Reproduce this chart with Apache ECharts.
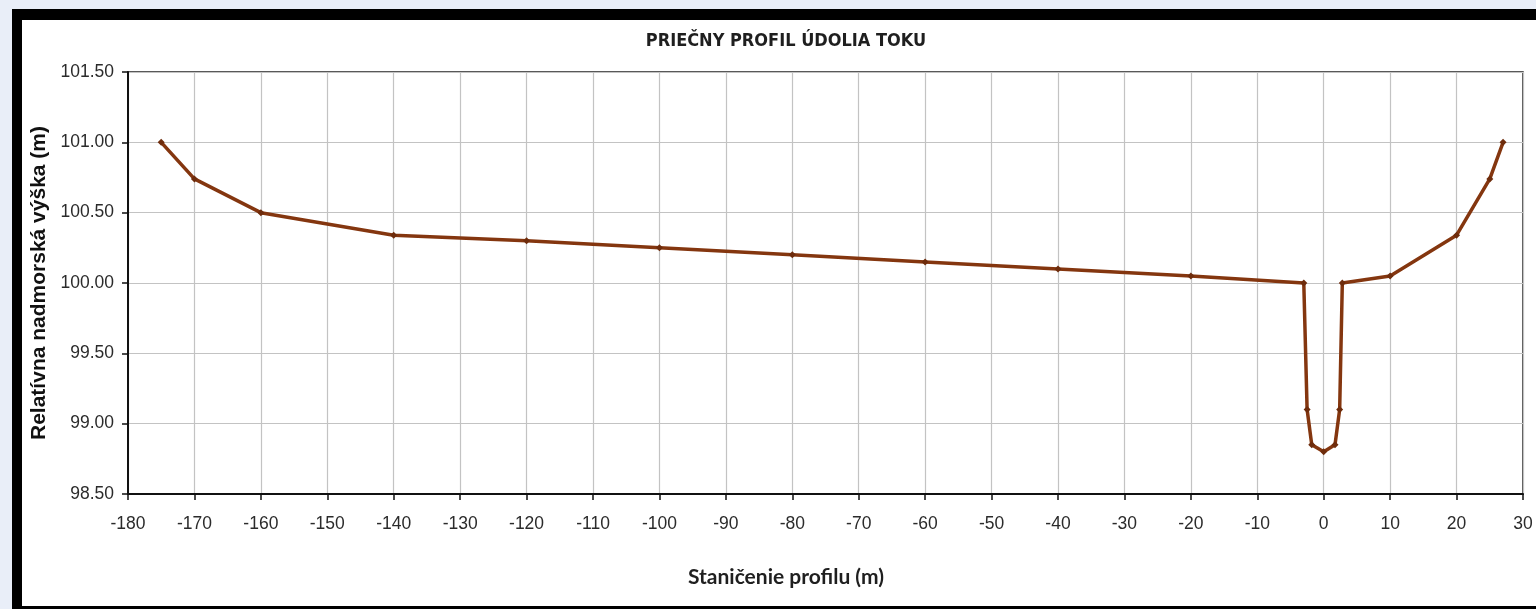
<!DOCTYPE html>
<html>
<head>
<meta charset="utf-8">
<title>Priečny profil údolia toku</title>
<script src="https://cdn.jsdelivr.net/npm/echarts@6/dist/echarts.min.js"></script>
<style>
  html, body { margin: 0; padding: 0; width: 1536px; height: 609px; overflow: hidden; background: #e9eef8; }
  #frame {
    position: absolute; left: 12px; top: 9px; width: 1560px; height: 600px;
    box-sizing: border-box; background: #ffffff;
    border-left: 10px solid #000; border-top: 11px solid #000; border-bottom: 3px solid #000;
  }
  #chart { position: absolute; left: 0; top: 0; width: 1536px; height: 609px; }
</style>
</head>
<body>
<div id="frame"></div>
<div id="chart"></div>
<script>
// Cross-section of the valley: station along the profile (m) and relative elevation (m)
const station = [-175, -170, -160, -140, -120, -100, -80, -60, -40, -20, -3, -2.5, -1.8, 0, 1.7, 2.4, 2.8, 10, 20, 25, 27];
const elevation = [101.0, 100.74, 100.5, 100.34, 100.3, 100.25, 100.2, 100.15, 100.1, 100.05, 100.0, 99.1, 98.85, 98.8, 98.85, 99.1, 100.0, 100.05, 100.34, 100.74, 101.0];

const titleText = 'PRIEČNY PROFIL ÚDOLIA TOKU';
const xAxisTitle = 'Staničenie profilu (m)';
const yAxisTitle = 'Relatívna nadmorská výška (m)';

const xRange = { min: -180, max: 30, step: 10 };
const yRange = { min: 98.5, max: 101.5, step: 0.5 };

const points = station.map((s, i) => [s, elevation[i]]);

const chart = echarts.init(document.getElementById('chart'), null, { renderer: 'canvas' });
const labelFont = { fontFamily: 'Liberation Sans, Arial, sans-serif', fontSize: 17.5, color: '#2b2b2b' };

chart.setOption({
  animation: false,
  backgroundColor: 'transparent',
  title: [
    {
      text: titleText, left: 781, top: 27, textAlign: 'center',
      textStyle: { fontFamily: 'Liberation Sans Narrow, DejaVu Sans Condensed, Arial, sans-serif', fontWeight: 'bold', fontSize: 18, color: '#1f1f1f' }
    },
    {
      text: xAxisTitle, left: 781, top: 562, textAlign: 'center',
      textStyle: { fontFamily: 'Lato, Open Sans, sans-serif', fontWeight: 'bold', fontSize: 21, color: '#1f1f1f' }
    }
  ],
  grid: { left: 128, right: 13, top: 72, bottom: 115, show: true, borderColor: '#222', borderWidth: 1.5, backgroundColor: '#ffffff' },
  xAxis: {
    type: 'value', min: xRange.min, max: xRange.max, interval: xRange.step,
    axisLine: { show: true, onZero: false, lineStyle: { color: '#111', width: 2 } },
    axisTick: { show: true, inside: false, length: 6, lineStyle: { color: '#111', width: 1.5 } },
    axisLabel: Object.assign({ margin: 21 }, labelFont),
    splitLine: { show: true, lineStyle: { color: '#c3c3c3', width: 1.2 } }
  },
  yAxis: {
    type: 'value', min: yRange.min, max: yRange.max, interval: yRange.step,
    name: yAxisTitle, nameLocation: 'middle', nameGap: 76, nameRotate: 90,
    nameTextStyle: { fontFamily: 'Liberation Sans, Arial, sans-serif', fontWeight: 'bold', fontSize: 21, color: '#111' },
    axisLine: { show: true, onZero: false, lineStyle: { color: '#111', width: 2 } },
    axisTick: { show: true, inside: false, length: 6, lineStyle: { color: '#111', width: 1.5 } },
    axisLabel: Object.assign({ margin: 14, formatter: v => v.toFixed(2) }, labelFont),
    splitLine: { show: true, lineStyle: { color: '#c3c3c3', width: 1.2 } }
  },
  series: [{
    type: 'line',
    data: points,
    smooth: false,
    lineStyle: { color: '#84360f', width: 3.5 },
    itemStyle: { color: '#6e2c0c' },
    symbol: 'diamond',
    symbolSize: 7,
    showSymbol: true
  }]
});
</script>
</body>
</html>
